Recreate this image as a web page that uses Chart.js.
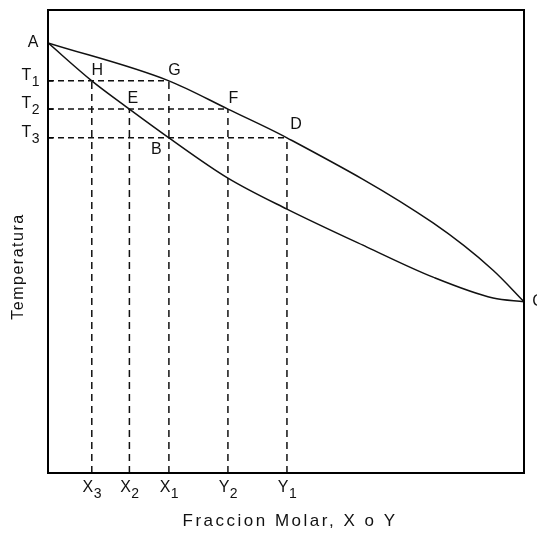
<!DOCTYPE html>
<html>
<head>
<meta charset="utf-8">
<script src="https://cdn.jsdelivr.net/npm/chart.js@4"></script>
<style>
  html, body { margin: 0; padding: 0; background: #fff; }
  #wrap { width: 537px; height: 535px; position: relative; }
</style>
</head>
<body>
<div id="wrap"><canvas id="c"></canvas></div>
<script>
// ---- data (x = mole fraction 0..1, T = temperature 0..100) ----
const vaporX  = [0, 0.254, 0.378, 0.502, 0.809, 0.935, 1.0];
const vaporT  = [92.9, 84.7, 78.6, 72.4, 54.0, 43.8, 37.0];
const liquidX = [0, 0.092, 0.171, 0.254, 0.378, 0.502, 0.670, 0.809, 0.935, 1.0];
const liquidT = [92.9, 84.7, 78.6, 72.4, 63.7, 57.0, 48.8, 42.3, 37.8, 37.0];

const levelT     = [84.7, 78.6, 72.4];          // T1, T2, T3
const levelBase  = ['T', 'T', 'T'];
const levelSub   = ['1', '2', '3'];
const levelEndX  = [0.254, 0.378, 0.502];       // G, F, D

const tickX    = [0.092, 0.171, 0.254, 0.378, 0.502];
const tickBase = ['X', 'X', 'X', 'Y', 'Y'];
const tickSub  = ['3', '2', '1', '2', '1'];
const tickTopT = [84.7, 78.6, 84.7, 78.6, 72.4]; // H, E, G, F, D

const pointNames = ['A', 'H', 'G', 'E', 'F', 'D', 'B', 'C'];
const pointX     = [0, 0.092, 0.254, 0.171, 0.378, 0.502, 0.254, 1.0];
const pointT     = [92.9, 84.7, 84.7, 78.6, 78.6, 72.4, 72.4, 37.0];

const xTitle = 'Fraccion Molar, X o Y';
const yTitle = 'Temperatura';

// ---- styling ----
const FONT = '"Liberation Sans", Arial, sans-serif';
const labelOffsets = { A: [-15, 0], H: [5.5, -10], G: [5.5, -10], E: [3.5, -10],
                       F: [5.5, -10.5], D: [9, -13], B: [-12.5, 11.5], C: [14, 0] };

const toPts = (xs, ys) => xs.map((x, i) => ({ x: x, y: ys[i] }));

const datasets = [
  { data: toPts(vaporX, vaporT), borderColor: '#111', borderWidth: 1.5,
    cubicInterpolationMode: 'monotone', showLine: true, pointRadius: 0 },
  { data: toPts(liquidX, liquidT), borderColor: '#111', borderWidth: 1.5,
    cubicInterpolationMode: 'monotone', showLine: true, pointRadius: 0 }
];
levelT.forEach((t, i) => {
  datasets.push({ data: [{ x: 0, y: t }, { x: levelEndX[i], y: t }], borderColor: '#111',
    borderWidth: 1.5, borderDash: [6, 4], showLine: true, pointRadius: 0 });
});
tickX.forEach((x, i) => {
  datasets.push({ data: [{ x: x, y: 0 }, { x: x, y: tickTopT[i] }], borderColor: '#111',
    borderWidth: 1.5, borderDash: [7, 5], showLine: true, pointRadius: 0 });
});

const decor = {
  id: 'decor',
  afterDraw(chart) {
    const ctx = chart.ctx, a = chart.chartArea;
    const xs = chart.scales.x, ys = chart.scales.y;
    ctx.save();
    // frame
    ctx.strokeStyle = '#000';
    ctx.lineWidth = 2;
    ctx.strokeRect(a.left, a.top, a.right - a.left, a.bottom - a.top);
    // left ticks
    ctx.lineWidth = 1.5;
    levelT.forEach(t => {
      const y = ys.getPixelForValue(t);
      ctx.beginPath(); ctx.moveTo(a.left, y); ctx.lineTo(a.left + 5, y); ctx.stroke();
    });
    ctx.fillStyle = '#111';
    ctx.textBaseline = 'alphabetic';
    const drawSub = (base, sub, x, y, align) => {
      ctx.font = '16px ' + FONT;
      const wb = ctx.measureText(base).width;
      ctx.font = '14px ' + FONT;
      const ws = ctx.measureText(sub).width;
      const w = wb + ws;
      let x0 = align === 'right' ? x - w : x - w / 2;
      ctx.textAlign = 'left';
      ctx.font = '16px ' + FONT;
      ctx.fillText(base, x0, y);
      ctx.font = '14px ' + FONT;
      ctx.fillText(sub, x0 + wb + 0.5, y + 6);
    };
    // y level labels
    levelT.forEach((t, i) => {
      drawSub(levelBase[i], levelSub[i], a.left - 9, ys.getPixelForValue(t) - 1, 'right');
    });
    // x tick labels
    tickX.forEach((x, i) => {
      drawSub(tickBase[i], tickSub[i], xs.getPixelForValue(x), a.bottom + 19, 'center');
    });
    // point labels
    ctx.font = '16px ' + FONT;
    ctx.textAlign = 'center';
    ctx.textBaseline = 'middle';
    pointNames.forEach((n, i) => {
      const o = labelOffsets[n];
      ctx.fillText(n, xs.getPixelForValue(pointX[i]) + o[0], ys.getPixelForValue(pointT[i]) + o[1]);
    });
    // axis titles
    ctx.font = '17px ' + FONT;
    try { ctx.letterSpacing = '2.5px'; } catch (e) {}
    ctx.fillText(xTitle, (a.left + a.right) / 2 + 4, a.bottom + 48);
    ctx.font = '16px ' + FONT;
    try { ctx.letterSpacing = '1.5px'; } catch (e) {}
    ctx.translate(19, (a.top + a.bottom) / 2 + 25);
    ctx.rotate(-Math.PI / 2);
    ctx.fillText(yTitle, 0, 0);
    ctx.restore();
  }
};

new Chart(document.getElementById('c'), {
  type: 'scatter',
  data: { datasets: datasets },
  options: {
    responsive: true,
    maintainAspectRatio: false,
    animation: false,
    layout: { padding: { left: 48, top: 10, right: 13, bottom: 62 } },
    plugins: { legend: { display: false }, tooltip: { enabled: false } },
    scales: {
      x: { type: 'linear', min: 0, max: 1, display: false },
      y: { type: 'linear', min: 0, max: 100, display: false }
    }
  },
  plugins: [decor]
});
</script>
</body>
</html>
